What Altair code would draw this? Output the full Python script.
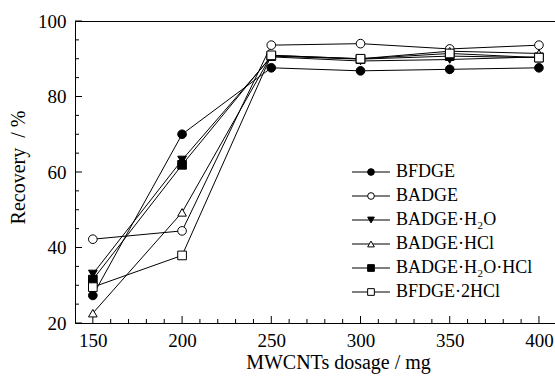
import altair as alt
import pandas as pd

# ---- data ----
dosage = [150, 200, 250, 300, 350, 400]
series_names = ["BFDGE", "BADGE", "BADGE·H₂O", "BADGE·HCl", "BADGE·H₂O·HCl", "BFDGE·2HCl"]
bfdge = [27.3, 70.0, 87.6, 86.8, 87.2, 87.6]
badge = [42.2, 44.4, 93.6, 94.0, 92.6, 93.6]
badge_h2o = [33.0, 63.2, 90.5, 89.4, 89.8, 90.5]
badge_hcl = [22.6, 49.3, 90.9, 90.0, 92.0, 91.4]
badge_h2o_hcl = [31.5, 61.9, 90.7, 89.9, 90.7, 90.3]
bfdge_2hcl = [29.5, 37.9, 90.9, 90.0, 91.4, 90.3]
shapes = ["circle", "circle", "triangle-down", "triangle-up", "square", "square"]
fills = ["black", "white", "black", "white", "black", "white"]

x_labels = [150, 200, 250, 300, 350, 400]
y_labels = [20, 40, 60, 80, 100]
x_minor = [160, 170, 180, 190, 210, 220, 230, 240, 260, 270, 280, 290,
           310, 320, 330, 340, 360, 370, 380, 390]
y_minor = [25, 30, 35, 45, 50, 55, 65, 70, 75, 85, 90, 95]

all_vals = [bfdge, badge, badge_h2o, badge_hcl, badge_h2o_hcl, bfdge_2hcl]
rows = []
for name, vals in zip(series_names, all_vals):
    for d, v in zip(dosage, vals):
        rows.append({"dosage": d, "recovery": v, "series": name})
df = pd.DataFrame(rows)

W, H = 480, 302
FONT = "Liberation Serif, Times New Roman, serif"

xscale = alt.Scale(domain=[140, 409], nice=False, zero=False)
yscale = alt.Scale(domain=[20, 100], nice=False, zero=False)
shape_scale = alt.Scale(domain=series_names, range=shapes)
fill_scale = alt.Scale(domain=series_names, range=fills)

base = alt.Chart(df)

lines = base.mark_line(color="black", strokeWidth=1).encode(
    x=alt.X("dosage:Q", scale=xscale,
            axis=alt.Axis(values=x_labels, title="MWCNTs dosage\u00a0/\u00a0mg", ticks=False,
                          grid=False, domain=False, labelPadding=8,
                          labelFont=FONT, titleFont=FONT, labelFontSize=19, titleFontSize=20,
                          titleBaseline="middle",
                          titleX=263, titleY=39, titleFontWeight="normal")),
    y=alt.Y("recovery:Q", scale=yscale,
            axis=alt.Axis(values=y_labels, title="Recovery\u00a0\u00a0/\u00a0%", ticks=False,
                          grid=False, domain=False, labelPadding=9,
                          labelFont=FONT, titleFont=FONT, labelFontSize=19, titleFontSize=20,
                          titleBaseline="middle",
                          titleX=-57, titleY=146, titleFontWeight="normal")),
    detail="series:N",
)

points = base.mark_point(size=75, opacity=1, stroke="black", strokeWidth=1, filled=False).encode(
    x=alt.X("dosage:Q", scale=xscale),
    y=alt.Y("recovery:Q", scale=yscale),
    shape=alt.Shape("series:N", scale=shape_scale, legend=None),
    fill=alt.Fill("series:N", scale=fill_scale, legend=None),
)

# inward ticks
xt_major = alt.Chart(pd.DataFrame({"v": x_labels})).mark_rule(color="black", strokeWidth=1).encode(
    x=alt.X("v:Q", scale=xscale), y=alt.value(H), y2=alt.value(H - 7))
xt_minor = alt.Chart(pd.DataFrame({"v": x_minor})).mark_rule(color="black", strokeWidth=1).encode(
    x=alt.X("v:Q", scale=xscale), y=alt.value(H), y2=alt.value(H - 4))
yt_major = alt.Chart(pd.DataFrame({"v": y_labels})).mark_rule(color="black", strokeWidth=1).encode(
    y=alt.Y("v:Q", scale=yscale), x=alt.value(0), x2=alt.value(7))
yt_minor = alt.Chart(pd.DataFrame({"v": y_minor})).mark_rule(color="black", strokeWidth=1).encode(
    y=alt.Y("v:Q", scale=yscale), x=alt.value(0), x2=alt.value(4))

# legend built from the series list
leg = pd.DataFrame({"series": series_names, "i": list(range(len(series_names)))})
leg_base = alt.Chart(leg).transform_calculate(
    ly="151 + 24 * datum.i", lx1="277", lx2="315", lm="296", lt="321")
leg_lines = leg_base.mark_rule(color="black", strokeWidth=1.2).encode(
    x=alt.X("lx1:Q", scale=None), x2="lx2:Q", y=alt.Y("ly:Q", scale=None))
leg_pts = leg_base.mark_point(size=45, opacity=1, stroke="black", strokeWidth=1).encode(
    x=alt.X("lm:Q", scale=None), y=alt.Y("ly:Q", scale=None),
    shape=alt.Shape("series:N", scale=shape_scale, legend=None),
    fill=alt.Fill("series:N", scale=fill_scale, legend=None))
leg_txt = leg_base.mark_text(align="left", baseline="middle", font=FONT, fontSize=18,
                             color="black").encode(
    x=alt.X("lt:Q", scale=None), y=alt.Y("ly:Q", scale=None), text="series:N")

chart = alt.layer(
    xt_major, xt_minor, yt_major, yt_minor, lines, points, leg_lines, leg_pts, leg_txt
).properties(
    width=W, height=H,
    autosize=alt.AutoSizeParams(type="none"),
    padding={"left": 75, "top": 21, "right": 0, "bottom": 58},
    background="white",
).configure_view(
    stroke="black", strokeWidth=1
).configure_axis(
    labelColor="black", titleColor="black",
)

chart.save("out.html", embed_options={"renderer": "svg", "actions": False})
